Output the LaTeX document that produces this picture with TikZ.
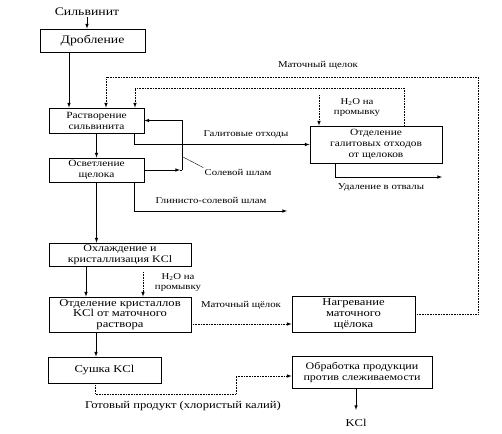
\documentclass[tikz,border=0pt]{standalone}
\usepackage{fontspec}
\setmainfont{Liberation Serif}[FakeStretch=1.2]
\usepackage{tikz}

\begin{document}
\begin{tikzpicture}[x=1pt, y=-1pt, >=latex, line width=0.6pt,
  box/.style={draw, line width=0.9pt, align=center, inner sep=1pt, font=\fontsize{10.5}{11}\selectfont},
  lbl/.style={align=center, inner sep=1pt, font=\fontsize{9}{10}\selectfont},
  dot/.style={densely dotted}]
  \useasboundingbox (0,0) rectangle (502,433);

  \node[lbl, font=\fontsize{11.5}{12}\selectfont] at (87,12) (silv) {Сильвинит};
  \node[box, minimum width=105, minimum height=23, font=\fontsize{11.5}{12}\selectfont] at (92.5,40.5) (drob) {Дробление};
  \node[box, minimum width=95, minimum height=25, font=\fontsize{9.5}{11}\selectfont] at (96.5,120.5) (rast) {Растворение\\сильвинита};
  \node[box, minimum width=95, minimum height=24, font=\fontsize{9.5}{11}\selectfont] at (96.5,170) (osv) {Осветление\\щелока};
  \node[box, minimum width=142, minimum height=23, font=\fontsize{10}{11}\selectfont] at (120,254.5) (ohl) {Охлаждение и\\кристаллизация KCl};
  \node[box, minimum width=142, minimum height=35, font=\fontsize{10.5}{10.5}\selectfont] at (120,314.5) (otdk) {Отделение кристаллов\\KCl от маточного\\раствора};
  \node[box, minimum width=113, minimum height=26] at (104.5,370) (sush) {Сушка KCl};
  \node[box, minimum width=132, minimum height=37, font=\fontsize{9.5}{11}\selectfont] at (376,144.5) (otdg) {Отделение\\галитовых отходов\\от щелоков};
  \node[box, minimum width=123, minimum height=36] at (353.5,314) (nagr) {Нагревание\\маточного\\щёлока};
  \node[box, minimum width=140, minimum height=32, font=\fontsize{10}{11}\selectfont] at (362,372) (obr) {Обработка продукции\\против слеживаемости};

  \node[lbl] at (318,65) (matop) {Маточный щелок};
  \node[lbl] at (357,107) (h2oa) {H\textsubscript{2}O на\\промывку};
  \node[lbl] at (246,134) (galit) {Галитовые отходы};
  \node[lbl] at (238,172) (sol) {Солевой шлам};
  \node[lbl] at (211,200) (glin) {Глинисто-солевой шлам};
  \node[lbl] at (381,187) (udal) {Удаление в отвалы};
  \node[lbl] at (178,282) (h2ob) {H\textsubscript{2}O на\\промывку};
  \node[lbl] at (241,305) (matbot) {Маточный щёлок};
  \node[lbl, font=\fontsize{10.5}{11}\selectfont] at (183,406) (gotov) {Готовый продукт (хлористый калий)};
  \node[box, draw=none] at (356,423) (kcl) {KCl};

  \coordinate (h2oatop) at (319,95);
  \coordinate (h2obtop) at (143,272);
  \coordinate (glend) at (287,211);
  \coordinate (udend) at (442,177);

  % main line
  \draw[->] (silv.south) -- (silv.south |- drob.north);
  \draw[->] (69,0 |- drob.south) -- (69,0 |- rast.north);
  \draw[->] (rast.south) -- (osv.north);
  \draw[->] (osv.south) -- (osv.south |- ohl.north);
  \draw[->] (86,0 |- ohl.south) -- (86,0 |- otdk.north);
  \draw[->] (96,0 |- otdk.south) -- (96,0 |- sush.north);

  % side streams
  \draw[->] (134,0 |- rast.south) |- (otdg.west);
  \draw[->] (osv.east) -- (180,0 |- osv.east);
  \draw (180,0 |- osv.east) -- (182,0 |- osv.east);
  \draw[->] (182,0 |- osv.east) |- (rast.east);
  \draw[line width=0.4pt] (183,157) -- (sol.north west);
  \draw[->] (134,0 |- osv.south) |- (glend);
  \draw[->] (335,0 |- otdg.south) |- (udend);

  % dotted returns
  \draw[dot, ->] (nagr.east) -| (478,77) -| (106,0 |- rast.north);
  \draw[dot, ->] (404,0 |- otdg.north) |- (135,88) -- (135,0 |- rast.north);
  \draw[dot, ->] (h2oatop) -- (h2oatop |- otdg.north);
  \draw[dot, ->] (h2obtop) -- (h2obtop |- otdk.north);
  \draw[dot, ->] (otdk.east |- 0,324) -- (nagr.west |- 0,324);
  \draw[dot, ->] (95,0 |- sush.south) |- (236,394) |- (obr.west |- 0,376);
  \draw[->] (obr.south -| kcl) -- ([yshift=8pt]kcl.north);
\end{tikzpicture}
\end{document}
